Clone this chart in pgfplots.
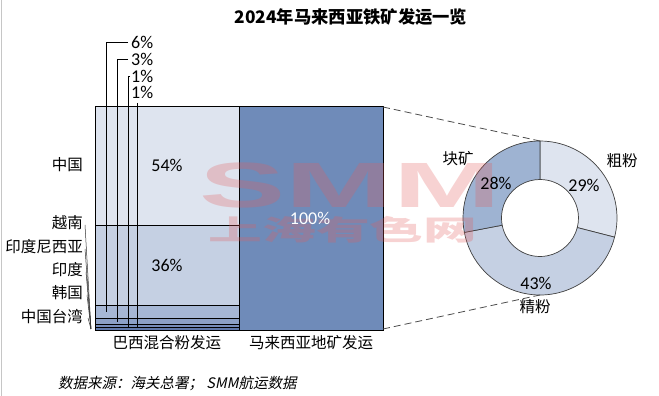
\documentclass[border=0pt]{standalone}
\usepackage{fontspec}
\setmainfont{Carlito}
\newfontfamily\cjk{Noto Sans CJK SC}
\newfontfamily\cjki{Noto Sans CJK SC}[FakeSlant=0.2]
\newfontfamily\wmfont{Liberation Sans}
\usepackage{pgfplots}
\pgfplotsset{compat=1.18}
\definecolor{cA}{RGB}{96,120,170}
\definecolor{cB}{RGB}{118,140,185}
\definecolor{cC}{RGB}{140,160,198}
\definecolor{cD}{RGB}{166,183,213}
\definecolor{cE}{RGB}{197,208,227}
\definecolor{cF}{RGB}{222,228,239}
\definecolor{cM}{RGB}{111,139,185}
\definecolor{dA}{RGB}{222,228,239}
\definecolor{dB}{RGB}{197,208,227}
\definecolor{dC}{RGB}{158,179,210}
\definecolor{wm}{RGB}{226,93,93}
\newcommand\donutpart[3]{%
  \filldraw[fill=#3, draw=black!75, line width=0.7pt]
    (axis cs:540,178) ++(#1:77pt) arc[start angle=#1, end angle=#2, radius=77pt]
    -- ([shift={(#2:38.5pt)}]axis cs:540,178)
    arc[start angle=#2, end angle=#1, radius=38.5pt] -- cycle;}
\begin{document}
\begin{tikzpicture}
\useasboundingbox (0,0) rectangle (659pt,396pt);
% donut shares (percent)
\pgfmathsetmacro\aA{90}
\pgfmathsetmacro\aB{90-3.6*29}
\pgfmathsetmacro\aC{\aB-3.6*43}
\pgfmathsetmacro\aD{\aC-3.6*28}
\begin{axis}[at={(95pt,66pt)}, anchor=south west, scale only axis,
  width=288pt, height=224pt, xmin=-0.5, xmax=1.5, ymin=0, ymax=100,
  ybar stacked, bar width=1, axis line style={draw=none}, ytick=\empty,
  xtick={0,1}, xticklabels={巴西混合粉发运,马来西亚地矿发运},
  major tick length=0pt, tick style={draw=none},
  xticklabel style={font=\cjk\fontsize{15.5}{18}\selectfont, inner sep=2pt, yshift=-3pt},
  clip=false, every axis plot/.append style={draw=black, line width=0.8pt}]
\addplot[fill=cA] coordinates {(0,1.2) (1,0)};   % 中国台湾
\addplot[fill=cB] coordinates {(0,1.3) (1,0)};   % 韩国
\addplot[fill=cC] coordinates {(0,2.7) (1,0)};   % 印度
\addplot[fill=cD] coordinates {(0,5.8) (1,0)};   % 印度尼西亚
\addplot[fill=cE] coordinates {(0,35.7) (1,0)};  % 越南
\addplot[fill=cF] coordinates {(0,53.3) (1,0)};  % 中国
\addplot[fill=cM] coordinates {(0,0) (1,100)};   % 马来西亚地矿
\end{axis}
\begin{axis}[at={(0pt,0pt)}, anchor=south west, scale only axis,
  width=659pt, height=396pt, xmin=0, xmax=659, ymin=0, ymax=396,
  hide axis, clip=false]
% left frame line
\draw[gray!45, line width=0.8pt] (axis cs:1.5,0) -- (axis cs:1.5,396);
% donut
\donutpart{\aA}{\aB}{dA}
\donutpart{\aB}{\aC}{dB}
\donutpart{\aC}{\aD}{dC}
% dashed connectors
\draw[black!70, line width=0.8pt, dash pattern=on 7pt off 4pt] (axis cs:383,289) -- (axis cs:540,255);
\draw[black!70, line width=0.8pt, dash pattern=on 7pt off 4pt] (axis cs:383,67) -- (axis cs:540,101);
% watermark
\node[text=wm, opacity=0.28, font=\wmfont\bfseries\fontsize{64}{64}\selectfont, xscale=2.02, inner sep=0pt] at (axis cs:350,211) {SMM};
\node[text=wm, opacity=0.28, font=\cjk\bfseries\fontsize{28}{28}\selectfont, xscale=1.92, inner sep=0pt] at (axis cs:343,166) {上海有色网};
% leader lines for small shares
\draw[black, line width=0.9pt] (axis cs:128,354) -- (axis cs:106,354) -- (axis cs:106,84);
\draw[black, line width=0.9pt] (axis cs:128,337) -- (axis cs:117,337) -- (axis cs:117,74);
\draw[black, line width=0.9pt] (axis cs:130,320) -- (axis cs:128,320) -- (axis cs:128,69);
\draw[black, line width=0.9pt] (axis cs:137,293) -- (axis cs:137,68);
\node[anchor=west, font=\fontsize{18}{18}\selectfont, inner sep=0pt] at (axis cs:131,354) {6\%};
\node[anchor=west, font=\fontsize{18}{18}\selectfont, inner sep=0pt] at (axis cs:131,337) {3\%};
\node[anchor=west, font=\fontsize{18}{18}\selectfont, inner sep=0pt] at (axis cs:131,320) {1\%};
\node[anchor=west, font=\fontsize{18}{18}\selectfont, inner sep=0pt] at (axis cs:131,304) {1\%};
% left category labels
\node[anchor=east, font=\cjk\fontsize{15.5}{18}\selectfont, inner sep=0pt] at (axis cs:83,231) {中国};
\node[anchor=east, font=\cjk\fontsize{15.5}{18}\selectfont, inner sep=0pt] at (axis cs:83,173) {越南};
\node[anchor=east, font=\cjk\fontsize{15.5}{18}\selectfont, inner sep=0pt] at (axis cs:83,149) {印度尼西亚};
\node[anchor=east, font=\cjk\fontsize{15.5}{18}\selectfont, inner sep=0pt] at (axis cs:83,126) {印度};
\node[anchor=east, font=\cjk\fontsize{15.5}{18}\selectfont, inner sep=0pt] at (axis cs:83,103) {韩国};
\node[anchor=east, font=\cjk\fontsize{15.5}{18}\selectfont, inner sep=0pt] at (axis cs:83,79) {中国台湾};
\draw[black!80, line width=0.5pt] (axis cs:85,171) -- (axis cs:91,67);
\draw[black!80, line width=0.5pt] (axis cs:85,147) -- (axis cs:91,67);
\draw[black!80, line width=0.5pt] (axis cs:86,124) -- (axis cs:91,67);
\draw[black!80, line width=0.5pt] (axis cs:87,101) -- (axis cs:91,67);
\draw[black!80, line width=0.5pt] (axis cs:88,78) -- (axis cs:91,67);
% bar value labels
\node[font=\fontsize{18}{18}\selectfont] at (axis cs:167,231) {54\%};
\node[font=\fontsize{18}{18}\selectfont] at (axis cs:167,131) {36\%};
\node[font=\fontsize{18}{18}\selectfont, text=white] at (axis cs:310,178) {100\%};
% donut labels
\node[font=\fontsize{18}{18}\selectfont] at (axis cs:584,211) {29\%};
\node[font=\fontsize{18}{18}\selectfont] at (axis cs:496,213) {28\%};
\node[font=\fontsize{18}{18}\selectfont] at (axis cs:536,113) {43\%};
\node[font=\cjk\fontsize{15.5}{18}\selectfont] at (axis cs:622,235) {粗粉};
\node[font=\cjk\fontsize{15.5}{18}\selectfont] at (axis cs:458,237) {块矿};
\node[font=\cjk\fontsize{15.5}{18}\selectfont, fill=white, inner sep=1pt] at (axis cs:535,89) {精粉};
% title and source
\node[font=\cjk\bfseries\fontsize{17.3}{20}\selectfont] at (axis cs:351,379) {2024年马来西亚铁矿发运一览};
\node[anchor=west, font=\cjki\fontsize{14.5}{16}\selectfont, inner sep=0pt] at (axis cs:58,13) {数据来源：海关总署；\ {\itshape SMM}航运数据};
\end{axis}
\end{tikzpicture}
\end{document}
